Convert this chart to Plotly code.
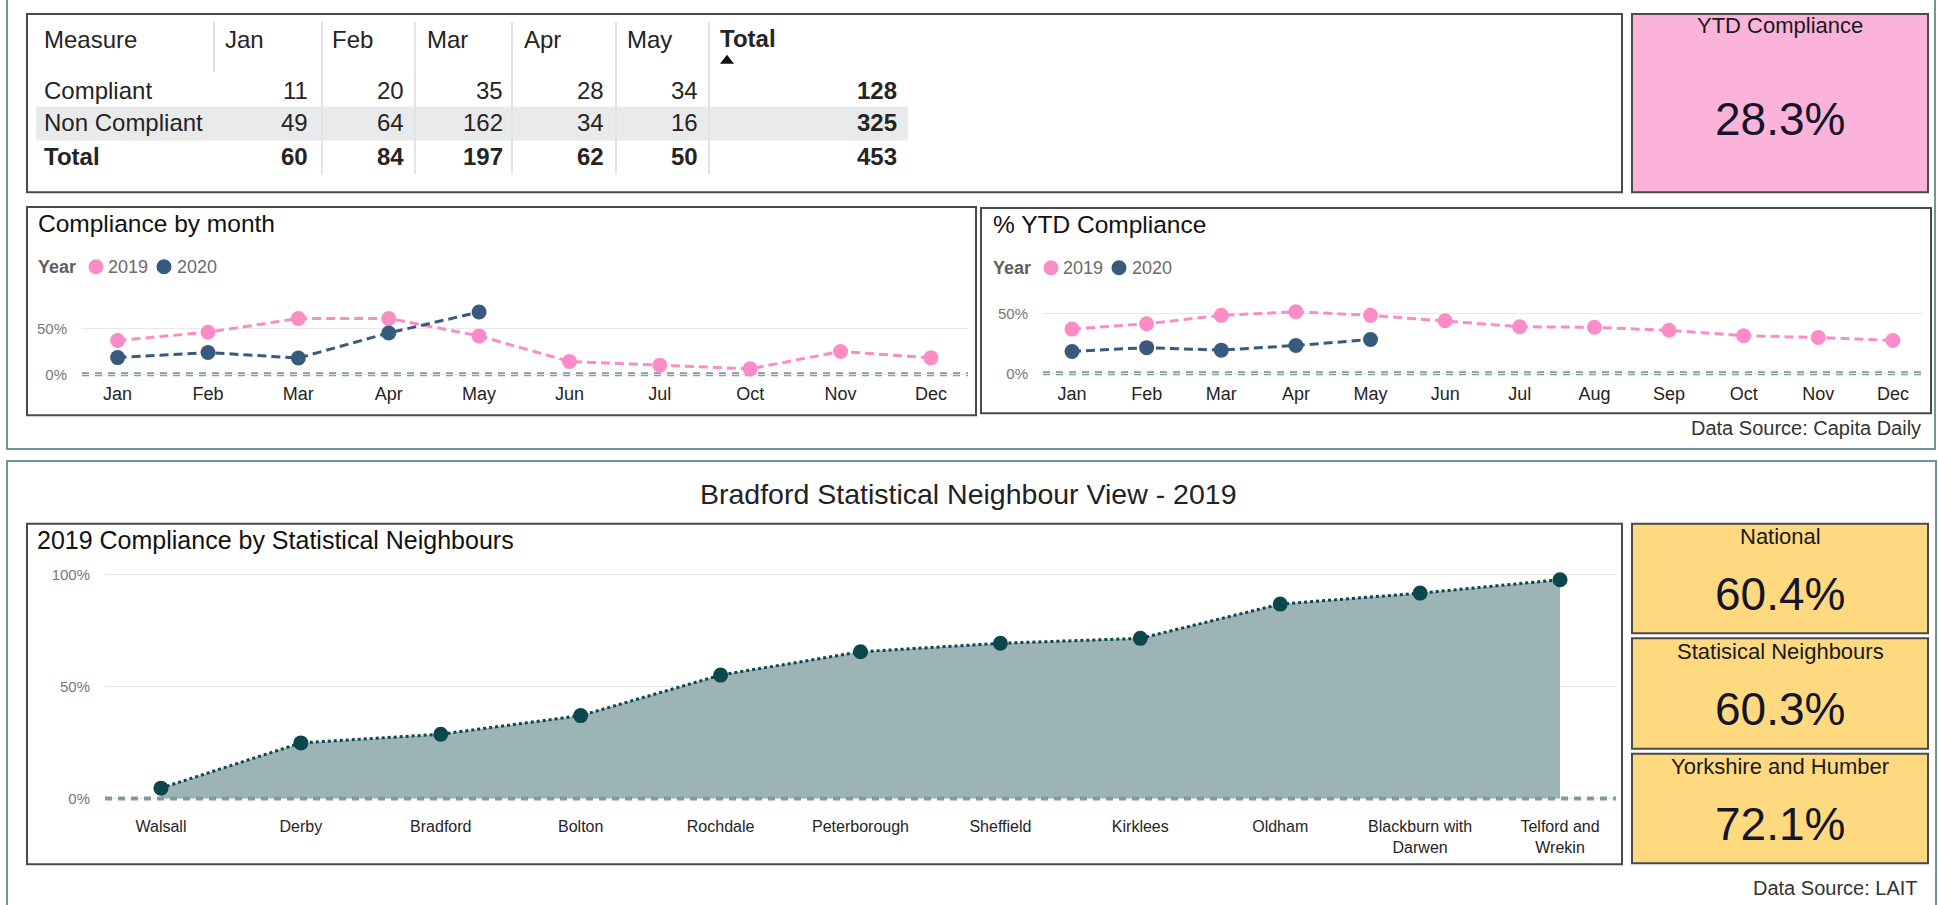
import plotly.graph_objects as go

W, H = 1939, 905

# ---------------- data ----------------
table_months = ["Jan", "Feb", "Mar", "Apr", "May"]
row_labels = ["Compliant", "Non Compliant", "Total"]
compliant = [11, 20, 35, 28, 34]
non_compliant = [49, 64, 162, 34, 16]
total_row = [60, 84, 197, 62, 50]
total_col = [128, 325, 453]

ytd_kpi_title = "YTD Compliance"
ytd_kpi_value = "28.3%"

cbm_months = ["Jan", "Feb", "Mar", "Apr", "May", "Jun", "Jul", "Oct", "Nov", "Dec"]
cbm_2019 = [37, 46, 61, 61, 42, 14, 10, 6, 25, 18]
cbm_2020_months = ["Jan", "Feb", "Mar", "Apr", "May"]
cbm_2020 = [18.3, 23.8, 17.8, 45.2, 68.0]

ytd_months = ["Jan", "Feb", "Mar", "Apr", "May", "Jun", "Jul", "Aug", "Sep", "Oct", "Nov", "Dec"]
ytd_2019 = [37, 41.5, 48.5, 51.5, 48.5, 44, 39, 38.5, 36, 31.5, 30, 27.5]
ytd_2020_months = ["Jan", "Feb", "Mar", "Apr", "May"]
ytd_2020 = [18.3, 21.5, 19.4, 23.3, 28.3]

neighbours = ["Walsall", "Derby", "Bradford", "Bolton", "Rochdale", "Peterborough",
              "Sheffield", "Kirklees", "Oldham", "Blackburn with<br>Darwen", "Telford and<br>Wrekin"]
neighbour_pct = [4.6, 24.8, 28.7, 37.0, 55.1, 65.5, 69.3, 71.5, 86.8, 91.7, 97.7]

kpi_titles = ["National", "Statisical Neighbours", "Yorkshire and Humber"]
kpi_values = ["60.4%", "60.3%", "72.1%"]
years = ["2019", "2020"]

# ---------------- styles ----------------
FONT = "Arial, 'Liberation Sans', sans-serif"
PINK = "#FB8CC8"
NAVY = "#395A7F"
TEAL_DARK = "#0C474E"
AREA = "#9DB4B7"
ZERO = "#7F9D9E"
GRID = "#E8E8E8"
BOX = "#4A4A4A"
PANEL = "#6E9699"
TXT = "#252423"
KPI_TXT = "#151529"


def X(p):
    return p / W


def Y(p):
    return 1 - p / H


shapes = []
ann = []


def rect(x0, y0, x1, y1, line=BOX, width=2, fill="rgba(0,0,0,0)"):
    shapes.append(dict(type="rect", xref="paper", yref="paper", x0=X(x0), x1=X(x1), y0=Y(y1), y1=Y(y0),
                       line=dict(color=line, width=width), fillcolor=fill, layer="below"))


def text(t, x, y, size, color=TXT, anchor="left", bold=False, yanchor="middle"):
    if bold:
        t = "<b>" + t + "</b>"
    ann.append(dict(text=t, x=X(x), y=Y(y), xref="paper", yref="paper", xanchor=anchor, yanchor=yanchor,
                    showarrow=False, font=dict(size=size, color=color, family=FONT), borderpad=0))


# panels
rect(7, -10, 1935, 451, line=PANEL, width=2)
rect(7, 463, 1936, 925, line=PANEL, width=2)

# ---------------- table ----------------
rect(27, 14, 1622, 193)
shapes.append(dict(type="rect", xref="paper", yref="paper", x0=X(36), x1=X(908), y0=Y(141), y1=Y(107),
                   line=dict(width=0), fillcolor="#E9EAEB", layer="below"))
shapes.append(dict(type="line", xref="paper", yref="paper", x0=X(214), x1=X(214), y0=Y(72), y1=Y(22),
                   line=dict(color="#DCDDDF", width=2), layer="below"))
for sx in [322, 415, 512, 616, 709]:
    shapes.append(dict(type="line", xref="paper", yref="paper", x0=X(sx), x1=X(sx), y0=Y(175), y1=Y(22),
                       line=dict(color="#E2E3E5", width=2), layer="below"))
# sort indicator (small triangle under "Total")
shapes.append(dict(type="path", xref="paper", yref="paper",
                   path=f"M {X(720)} {Y(64)} L {X(734)} {Y(64)} L {X(727)} {Y(55)} Z",
                   fillcolor="#111", line=dict(width=0)))

TS = 24
header_x = [224, 331, 426, 523, 626]
value_right = [309, 405, 504, 605, 699]
row_y = [91, 123, 157]
text("Measure", 43, 40, TS)
for m, hx in zip(table_months, header_x):
    text(m, hx, 40, TS)
text("Total", 719, 39, TS, bold=True)
rows = [compliant, non_compliant, total_row]
for i, (lab, vals) in enumerate(zip(row_labels, rows)):
    b = lab == "Total"
    text(lab, 43, row_y[i], TS, bold=b)
    for v, rx in zip(vals, value_right):
        text(str(v), rx, row_y[i], TS, anchor="right", bold=b)
    text(str(total_col[i]), 898, row_y[i], TS, anchor="right", bold=True)

# ---------------- KPI boxes ----------------
rect(1632, 14, 1928, 193, fill="#FBB3D9")
text(ytd_kpi_title, 1780, 26, 22, color="#1a1a1a", anchor="center")
text(ytd_kpi_value, 1780, 120, 46, color=KPI_TXT, anchor="center")

kpi_boxes = [(526, 636), (641, 752), (757, 867)]
for (t0, t1), tt, vv in zip(kpi_boxes, kpi_titles, kpi_values):
    rect(1632, t0, 1928, t1, fill="#FED97F")
    text(tt, 1780, t0 + 13, 22, color="#1a1a1a", anchor="center")
    text(vv, 1780, t0 + 71, 46, color=KPI_TXT, anchor="center")

# ---------------- chart boxes & titles ----------------
rect(27, 208, 976, 417)
rect(981, 209, 1931, 415)
rect(27, 526, 1622, 868)
text("Compliance by month", 37, 224, 24.5, color="#111")
text("% YTD Compliance", 992, 225, 24.5, color="#111")
text("2019 Compliance by Statistical Neighbours", 36, 542, 25, color="#111")
text("Bradford Statistical Neighbour View - 2019", 968, 496, 28.5, color="#222", anchor="center")
text("Data Source: Capita Daily", 1922, 430, 20, color="#333", anchor="right")
text("Data Source: LAIT", 1919, 892, 20, color="#333", anchor="right")


# legends (manual)
def legend(x0, y):
    text("Year", x0, y, 18, color="#5F5E5C", bold=True)
    for cx, col, yr, tx in [(x0 + 59, PINK, years[0], x0 + 70), (x0 + 127, NAVY, years[1], x0 + 139)]:
        shapes.append(dict(type="circle", xref="paper", yref="paper", x0=X(cx - 7.5), x1=X(cx + 7.5),
                           y0=Y(y + 7.5), y1=Y(y - 7.5), fillcolor=col, line=dict(width=0)))
        text(yr, tx, y, 18, color="#6b6b6b")


legend(37, 268)
legend(992, 269)

# ---------------- traces ----------------
fig = go.Figure()
fig.add_trace(go.Scatter(x=cbm_months, y=cbm_2019, mode="lines+markers", name="2019",
                         line=dict(color=PINK, width=3, dash="9px,5px"), marker=dict(size=15, color=PINK),
                         xaxis="x", yaxis="y"))
fig.add_trace(go.Scatter(x=cbm_2020_months, y=cbm_2020, mode="lines+markers", name="2020",
                         line=dict(color=NAVY, width=3, dash="9px,5px"), marker=dict(size=15, color=NAVY),
                         xaxis="x", yaxis="y"))
fig.add_trace(go.Scatter(x=ytd_months, y=ytd_2019, mode="lines+markers", name="2019",
                         line=dict(color=PINK, width=3, dash="9px,5px"), marker=dict(size=15, color=PINK),
                         xaxis="x2", yaxis="y2"))
fig.add_trace(go.Scatter(x=ytd_2020_months, y=ytd_2020, mode="lines+markers", name="2020",
                         line=dict(color=NAVY, width=3, dash="9px,5px"), marker=dict(size=15, color=NAVY),
                         xaxis="x2", yaxis="y2"))
fig.add_trace(go.Scatter(x=neighbours, y=neighbour_pct, mode="lines+markers", name="2019",
                         fill="tozeroy", fillcolor=AREA,
                         line=dict(color=TEAL_DARK, width=3, dash="3px,3px"), marker=dict(size=15, color=TEAL_DARK),
                         xaxis="x3", yaxis="y3"))

# zero lines (thick dashed)
for xr, yr, lay in [("x domain", "y", "below"), ("x2 domain", "y2", "below"), ("x3 domain", "y3", "above")]:
    shapes.append(dict(type="line", xref=xr, yref=yr, x0=0, x1=1, y0=0, y1=0,
                       line=dict(color=ZERO, width=4, dash="7px,6px"), layer=lay))


def xax(domain, cats, rng, size, standoff):
    return dict(domain=[X(domain[0]), X(domain[1])], type="category", categoryorder="array",
                categoryarray=cats, range=rng, showgrid=False, zeroline=False, showline=False,
                ticks="", tickfont=dict(size=size, color=TXT, family=FONT), fixedrange=True,
                ticklabelstandoff=standoff)


def yax(domain, rng, dtick, anchor, standoff):
    return dict(domain=[Y(domain[1]), Y(domain[0])], range=rng, dtick=dtick, ticksuffix="%",
                showgrid=True, gridcolor=GRID, gridwidth=1, zeroline=False, showline=False, ticks="",
                tickfont=dict(size=15, color="#777", family=FONT), anchor=anchor,
                ticklabelstandoff=standoff, fixedrange=True)


fig.update_layout(
    width=W, height=H, autosize=False,
    margin=dict(l=0, r=0, t=0, b=0, pad=0),
    paper_bgcolor="white", plot_bgcolor="rgba(0,0,0,0)",
    showlegend=False,
    font=dict(family=FONT, color=TXT),
    xaxis=dict(**xax((82, 968), cbm_months, [-0.394, 9.41], 18, 3), anchor="y"),
    yaxis=yax((290, 380), [-4.35, 93.5], 50, "x", 14),
    xaxis2=dict(**xax((1043, 1922), ytd_months, [-0.389, 11.39], 18, 3), anchor="y2"),
    yaxis2=yax((290, 380), [-4.17, 70.8], 50, "x2", 14),
    xaxis3=dict(**xax((105, 1616), neighbours, [-0.4, 10.4], 16, 9), anchor="y3"),
    yaxis3=yax((560, 810), [-3.56, 107.6], 50, "x3", 14),
    shapes=shapes,
    annotations=ann,
)

fig.write_html("out.html", config={"displayModeBar": False},
               post_script="document.body.style.margin='0';document.body.style.overflow='hidden';")
